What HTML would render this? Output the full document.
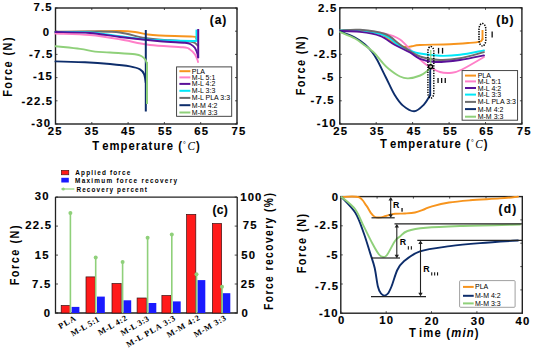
<!DOCTYPE html>
<html><head><meta charset="utf-8"><style>
html,body{margin:0;padding:0;background:#fff;width:533px;height:349px;overflow:hidden}
svg{display:block}
text{fill:#000}
</style></head><body>
<svg width="533" height="349" viewBox="0 0 533 349">
<rect width="533" height="349" fill="#fff"/>
<rect x="55.5" y="8.0" width="181.5" height="116.0" fill="none" stroke="#222" stroke-width="1.4"/>
<line x1="55.5" y1="8.0" x2="57.5" y2="8.0" stroke="#222" stroke-width="0.8" />
<line x1="55.5" y1="31.2" x2="57.5" y2="31.2" stroke="#222" stroke-width="0.8" />
<line x1="55.5" y1="54.4" x2="57.5" y2="54.4" stroke="#222" stroke-width="0.8" />
<line x1="55.5" y1="77.6" x2="57.5" y2="77.6" stroke="#222" stroke-width="0.8" />
<line x1="55.5" y1="100.8" x2="57.5" y2="100.8" stroke="#222" stroke-width="0.8" />
<line x1="55.5" y1="124.0" x2="57.5" y2="124.0" stroke="#222" stroke-width="0.8" />
<line x1="237.0" y1="8.0" x2="235.0" y2="8.0" stroke="#222" stroke-width="0.8" />
<line x1="237.0" y1="31.2" x2="235.0" y2="31.2" stroke="#222" stroke-width="0.8" />
<line x1="237.0" y1="54.4" x2="235.0" y2="54.4" stroke="#222" stroke-width="0.8" />
<line x1="237.0" y1="77.6" x2="235.0" y2="77.6" stroke="#222" stroke-width="0.8" />
<line x1="237.0" y1="100.8" x2="235.0" y2="100.8" stroke="#222" stroke-width="0.8" />
<line x1="237.0" y1="124.0" x2="235.0" y2="124.0" stroke="#222" stroke-width="0.8" />
<line x1="55.5" y1="124.0" x2="55.5" y2="122.0" stroke="#222" stroke-width="0.8" />
<line x1="91.8" y1="124.0" x2="91.8" y2="122.0" stroke="#222" stroke-width="0.8" />
<line x1="128.1" y1="124.0" x2="128.1" y2="122.0" stroke="#222" stroke-width="0.8" />
<line x1="164.4" y1="124.0" x2="164.4" y2="122.0" stroke="#222" stroke-width="0.8" />
<line x1="200.7" y1="124.0" x2="200.7" y2="122.0" stroke="#222" stroke-width="0.8" />
<line x1="237.0" y1="124.0" x2="237.0" y2="122.0" stroke="#222" stroke-width="0.8" />
<line x1="55.5" y1="8.0" x2="55.5" y2="10.0" stroke="#222" stroke-width="0.8" />
<line x1="91.8" y1="8.0" x2="91.8" y2="10.0" stroke="#222" stroke-width="0.8" />
<line x1="128.1" y1="8.0" x2="128.1" y2="10.0" stroke="#222" stroke-width="0.8" />
<line x1="164.4" y1="8.0" x2="164.4" y2="10.0" stroke="#222" stroke-width="0.8" />
<line x1="200.7" y1="8.0" x2="200.7" y2="10.0" stroke="#222" stroke-width="0.8" />
<line x1="237.0" y1="8.0" x2="237.0" y2="10.0" stroke="#222" stroke-width="0.8" />
<path d="M55.5,32.0 C61.2,31.9 79.2,31.7 90.0,31.5 C100.8,31.3 112.5,30.9 120.0,31.0 C127.5,31.1 130.3,31.4 135.0,32.0 C139.7,32.6 143.8,33.9 148.0,34.5 C152.2,35.1 152.5,35.1 160.0,35.5 C167.5,35.9 187.0,36.1 193.0,36.6 C199.0,37.1 195.5,37.9 196.0,38.2" fill="none" stroke="#f7941d" stroke-width="1.9" stroke-linejoin="round" stroke-linecap="round" />
<path d="M55.5,31.8 C62.1,31.8 84.2,31.4 95.0,31.5 C105.8,31.6 111.7,31.4 120.0,32.5 C128.3,33.6 136.7,36.7 145.0,38.0 C153.3,39.3 162.5,39.7 170.0,40.3 C177.5,40.9 185.8,41.0 190.0,41.5 C194.2,42.0 193.8,42.3 195.0,43.0 C196.2,43.7 197.1,45.1 197.5,45.5" fill="none" stroke="#6e6e6e" stroke-width="1.9" stroke-linejoin="round" stroke-linecap="round" />
<path d="M55.5,32.0 C61.2,32.1 79.2,31.8 90.0,32.5 C100.8,33.2 110.0,35.1 120.0,36.3 C130.0,37.5 137.7,39.0 150.0,39.8 C162.3,40.6 186.2,40.9 194.0,41.0 C201.8,41.1 196.1,40.3 196.5,40.2" fill="none" stroke="#00e8f8" stroke-width="1.9" stroke-linejoin="round" stroke-linecap="round" />
<line x1="196.5" y1="29.6" x2="196.5" y2="40.0" stroke="#00e8f8" stroke-width="2" />
<path d="M55.5,33.5 C61.2,33.8 79.2,34.0 90.0,35.0 C100.8,36.0 110.0,37.6 120.0,39.3 C130.0,41.0 139.5,43.7 150.0,45.0 C160.5,46.3 176.3,46.5 183.0,47.3 C189.7,48.0 188.0,48.3 190.0,49.5 C192.0,50.7 193.8,52.8 195.0,54.5 C196.2,56.2 197.0,58.8 197.5,60.0 C198.0,61.2 197.9,61.7 198.0,62.0" fill="none" stroke="#ff7fc8" stroke-width="1.9" stroke-linejoin="round" stroke-linecap="round" />
<path d="M55.5,32.0 C61.2,32.2 79.2,32.2 90.0,33.0 C100.8,33.8 108.3,35.6 120.0,37.0 C131.7,38.4 149.2,40.2 160.0,41.2 C170.8,42.2 179.8,42.2 185.0,42.8 C190.2,43.3 189.3,43.6 191.0,44.5 C192.7,45.4 193.9,46.4 195.0,48.0 C196.1,49.6 197.0,52.4 197.5,54.0 C198.0,55.6 198.1,56.9 198.2,57.5" fill="none" stroke="#5a1199" stroke-width="1.9" stroke-linejoin="round" stroke-linecap="round" />
<line x1="198.2" y1="29.0" x2="198.2" y2="57.8" stroke="#5a1199" stroke-width="2" />
<path d="M55.5,61.4 C60.4,61.5 75.9,61.9 85.0,62.3 C94.1,62.7 102.5,63.3 110.0,64.0 C117.5,64.7 125.0,65.5 130.0,66.4 C135.0,67.3 137.7,68.1 140.0,69.4 C142.3,70.7 143.0,71.8 144.0,74.0 C145.0,76.2 145.5,81.3 145.8,82.8" fill="none" stroke="#0d2d6b" stroke-width="1.9" stroke-linejoin="round" stroke-linecap="round" />
<line x1="145.8" y1="30.0" x2="145.8" y2="111.5" stroke="#0d2d6b" stroke-width="2" />
<path d="M55.5,46.2 C59.6,46.7 73.4,48.0 80.0,48.9 C86.6,49.8 90.0,51.0 95.0,51.6 C100.0,52.2 103.3,52.0 110.0,52.5 C116.7,53.0 129.7,53.6 135.0,54.3 C140.3,55.0 140.2,55.5 142.0,56.5 C143.8,57.5 144.7,58.8 145.5,60.0 C146.3,61.2 146.8,63.3 147.0,64.0" fill="none" stroke="#8fd07a" stroke-width="1.9" stroke-linejoin="round" stroke-linecap="round" />
<line x1="147.0" y1="62.0" x2="147.0" y2="104.0" stroke="#8fd07a" stroke-width="2" />
<rect x="176.6" y="66.9" width="55.1" height="49.4" fill="#fff" stroke="#333" stroke-width="0.9"/>
<line x1="179.4" y1="71.2" x2="190.4" y2="71.2" stroke="#f7941d" stroke-width="2" />
<text x="191.8" y="73.7" font-size="7" text-anchor="start" font-weight="normal" font-family="Liberation Sans" fill="#1a1a1a">PLA</text>
<line x1="179.4" y1="77.4" x2="190.4" y2="77.4" stroke="#ff7fc8" stroke-width="2" />
<text x="191.8" y="79.9" font-size="7" text-anchor="start" font-weight="normal" font-family="Liberation Sans" fill="#1a1a1a">M-L 5:1</text>
<line x1="179.4" y1="83.9" x2="190.4" y2="83.9" stroke="#5a1199" stroke-width="2" />
<text x="191.8" y="86.4" font-size="7" text-anchor="start" font-weight="normal" font-family="Liberation Sans" fill="#1a1a1a">M-L 4:2</text>
<line x1="179.4" y1="90.8" x2="190.4" y2="90.8" stroke="#00e8f8" stroke-width="2" />
<text x="191.8" y="93.3" font-size="7" text-anchor="start" font-weight="normal" font-family="Liberation Sans" fill="#1a1a1a">M-L 3:3</text>
<line x1="179.4" y1="97.9" x2="190.4" y2="97.9" stroke="#6e6e6e" stroke-width="2" />
<text x="191.8" y="100.4" font-size="7" text-anchor="start" font-weight="normal" font-family="Liberation Sans" fill="#1a1a1a">M-L PLA 3:3</text>
<line x1="179.4" y1="105.2" x2="190.4" y2="105.2" stroke="#0d2d6b" stroke-width="2" />
<text x="191.8" y="107.7" font-size="7" text-anchor="start" font-weight="normal" font-family="Liberation Sans" fill="#1a1a1a">M-M 4:2</text>
<line x1="179.4" y1="112.5" x2="190.4" y2="112.5" stroke="#8fd07a" stroke-width="2" />
<text x="191.8" y="115.0" font-size="7" text-anchor="start" font-weight="normal" font-family="Liberation Sans" fill="#1a1a1a">M-M 3:3</text>
<rect x="339.8" y="7.8" width="182.1" height="116.2" fill="none" stroke="#222" stroke-width="1.4"/>
<line x1="339.8" y1="7.8" x2="341.8" y2="7.8" stroke="#222" stroke-width="0.8" />
<line x1="339.8" y1="31.0" x2="341.8" y2="31.0" stroke="#222" stroke-width="0.8" />
<line x1="339.8" y1="54.3" x2="341.8" y2="54.3" stroke="#222" stroke-width="0.8" />
<line x1="339.8" y1="77.5" x2="341.8" y2="77.5" stroke="#222" stroke-width="0.8" />
<line x1="339.8" y1="100.8" x2="341.8" y2="100.8" stroke="#222" stroke-width="0.8" />
<line x1="339.8" y1="124.0" x2="341.8" y2="124.0" stroke="#222" stroke-width="0.8" />
<line x1="521.9" y1="7.8" x2="519.9" y2="7.8" stroke="#222" stroke-width="0.8" />
<line x1="521.9" y1="31.0" x2="519.9" y2="31.0" stroke="#222" stroke-width="0.8" />
<line x1="521.9" y1="54.3" x2="519.9" y2="54.3" stroke="#222" stroke-width="0.8" />
<line x1="521.9" y1="77.5" x2="519.9" y2="77.5" stroke="#222" stroke-width="0.8" />
<line x1="521.9" y1="100.8" x2="519.9" y2="100.8" stroke="#222" stroke-width="0.8" />
<line x1="521.9" y1="124.0" x2="519.9" y2="124.0" stroke="#222" stroke-width="0.8" />
<line x1="339.8" y1="124.0" x2="339.8" y2="122.0" stroke="#222" stroke-width="0.8" />
<line x1="376.2" y1="124.0" x2="376.2" y2="122.0" stroke="#222" stroke-width="0.8" />
<line x1="412.6" y1="124.0" x2="412.6" y2="122.0" stroke="#222" stroke-width="0.8" />
<line x1="449.1" y1="124.0" x2="449.1" y2="122.0" stroke="#222" stroke-width="0.8" />
<line x1="485.5" y1="124.0" x2="485.5" y2="122.0" stroke="#222" stroke-width="0.8" />
<line x1="521.9" y1="124.0" x2="521.9" y2="122.0" stroke="#222" stroke-width="0.8" />
<line x1="339.8" y1="7.8" x2="339.8" y2="9.8" stroke="#222" stroke-width="0.8" />
<line x1="376.2" y1="7.8" x2="376.2" y2="9.8" stroke="#222" stroke-width="0.8" />
<line x1="412.6" y1="7.8" x2="412.6" y2="9.8" stroke="#222" stroke-width="0.8" />
<line x1="449.1" y1="7.8" x2="449.1" y2="9.8" stroke="#222" stroke-width="0.8" />
<line x1="485.5" y1="7.8" x2="485.5" y2="9.8" stroke="#222" stroke-width="0.8" />
<line x1="521.9" y1="7.8" x2="521.9" y2="9.8" stroke="#222" stroke-width="0.8" />
<path d="M340.0,31.0 C343.3,31.0 353.3,30.6 360.0,31.0 C366.7,31.4 375.0,31.9 380.0,33.5 C385.0,35.1 387.0,38.5 390.0,40.5 C393.0,42.5 395.5,44.1 398.0,45.2 C400.5,46.3 402.7,46.8 405.0,47.0 C407.3,47.2 409.5,46.5 412.0,46.2 C414.5,45.9 413.7,45.3 420.0,45.0 C426.3,44.7 441.7,44.6 450.0,44.2 C458.3,43.9 465.0,43.3 470.0,42.9 C475.0,42.5 477.9,42.2 480.0,41.6 C482.1,41.0 482.1,39.4 482.5,39.0" fill="none" stroke="#f7941d" stroke-width="1.9" stroke-linejoin="round" stroke-linecap="round" />
<line x1="482.5" y1="30.0" x2="482.5" y2="40.0" stroke="#f7941d" stroke-width="1.9" />
<path d="M340.0,31.0 C343.3,30.9 352.5,30.1 360.0,30.5 C367.5,30.9 378.3,32.1 385.0,33.6 C391.7,35.1 395.3,36.3 400.0,39.5 C404.7,42.7 408.7,48.4 413.0,52.6 C417.3,56.8 421.5,61.3 426.0,64.5 C430.5,67.7 435.7,70.6 440.0,72.0 C444.3,73.4 448.3,73.2 452.0,72.8 C455.7,72.4 456.7,72.1 462.0,69.5 C467.3,66.9 480.3,59.1 484.0,57.0" fill="none" stroke="#ff7fc8" stroke-width="1.9" stroke-linejoin="round" stroke-linecap="round" />
<path d="M340.0,30.5 C343.3,30.4 352.5,29.4 360.0,30.2 C367.5,31.0 378.7,33.0 385.0,35.5 C391.3,38.0 393.8,42.5 398.0,45.0 C402.2,47.5 406.3,49.1 410.0,50.5 C413.7,51.9 415.0,52.6 420.0,53.5 C425.0,54.4 433.3,55.6 440.0,55.8 C446.7,56.0 452.7,55.7 460.0,54.8 C467.3,53.9 480.0,51.1 484.0,50.4" fill="none" stroke="#00e8f8" stroke-width="1.9" stroke-linejoin="round" stroke-linecap="round" />
<path d="M340.0,30.5 C343.3,30.4 352.5,29.2 360.0,29.8 C367.5,30.4 378.7,31.8 385.0,34.0 C391.3,36.2 394.7,40.7 398.0,43.0 C401.3,45.3 401.3,45.6 405.0,47.9 C408.7,50.1 414.2,54.5 420.0,56.5 C425.8,58.5 433.3,59.7 440.0,60.0 C446.7,60.3 452.7,59.6 460.0,58.3 C467.3,57.0 480.0,53.1 484.0,52.1" fill="none" stroke="#6e6e6e" stroke-width="1.9" stroke-linejoin="round" stroke-linecap="round" />
<path d="M340.0,31.0 C343.3,31.1 353.3,31.1 360.0,31.9 C366.7,32.7 374.2,33.7 380.0,35.9 C385.8,38.1 390.0,42.2 395.0,45.0 C400.0,47.8 405.8,50.2 410.0,52.5 C414.2,54.8 415.8,57.2 420.0,58.8 C424.2,60.4 428.3,61.8 435.0,62.0 C441.7,62.2 451.8,61.1 460.0,60.0 C468.2,58.9 480.0,56.2 484.0,55.4" fill="none" stroke="#5a1199" stroke-width="1.9" stroke-linejoin="round" stroke-linecap="round" />
<path d="M340.0,31.5 C342.5,32.5 350.8,35.3 355.0,37.5 C359.2,39.7 362.2,42.1 365.0,44.5 C367.8,46.9 370.0,49.4 372.0,52.0 C374.0,54.6 374.9,55.8 377.2,60.0 C379.5,64.2 382.9,71.5 385.8,77.2 C388.7,82.9 391.5,89.7 394.4,94.4 C397.3,99.1 399.7,102.8 403.0,105.6 C406.3,108.4 410.8,111.4 414.2,111.3 C417.6,111.2 421.1,107.4 423.7,104.8 C426.3,102.2 428.9,97.0 430.0,95.5" fill="none" stroke="#0d2d6b" stroke-width="1.9" stroke-linejoin="round" stroke-linecap="round" />
<line x1="430.2" y1="68.0" x2="430.2" y2="96.0" stroke="#0d2d6b" stroke-width="1.9" />
<path d="M340.0,32.0 C342.5,33.1 350.8,36.2 355.0,38.5 C359.2,40.8 361.8,43.1 365.0,45.5 C368.2,47.9 371.6,50.2 374.3,52.9 C377.1,55.6 379.1,58.9 381.5,61.5 C383.9,64.1 385.5,66.2 388.6,68.7 C391.7,71.2 396.7,74.9 400.0,76.5 C403.3,78.1 404.8,78.6 408.2,78.4 C411.6,78.2 416.9,76.8 420.2,75.5 C423.5,74.2 426.3,71.6 428.0,70.3 C429.7,69.0 430.1,68.0 430.5,67.5" fill="none" stroke="#8fd07a" stroke-width="1.9" stroke-linejoin="round" stroke-linecap="round" />
<line x1="430.8" y1="50.0" x2="430.8" y2="66.0" stroke="#8fd07a" stroke-width="1.2" />
<circle cx="430.6" cy="66.8" r="2" fill="none" stroke="#000" stroke-width="1.4"/>
<rect x="427.9" y="46.5" width="5.9" height="51.5" rx="2.95" ry="5" fill="none" stroke="#000" stroke-width="1.5" stroke-dasharray="1.3 1.2"/>
<rect x="479" y="23.4" width="6.8" height="22.5" rx="3.4" ry="6" fill="none" stroke="#000" stroke-width="1.5" stroke-dasharray="1.3 1.2"/>
<rect x="462.1" y="70.6" width="55.5" height="49.6" fill="#fff" stroke="#333" stroke-width="0.9"/>
<line x1="465.0" y1="75.6" x2="476.0" y2="75.6" stroke="#f7941d" stroke-width="2" />
<text x="477.7" y="78.1" font-size="7" text-anchor="start" font-weight="normal" font-family="Liberation Sans" fill="#1a1a1a">PLA</text>
<line x1="465.0" y1="81.4" x2="476.0" y2="81.4" stroke="#ff7fc8" stroke-width="2" />
<text x="477.7" y="83.9" font-size="7" text-anchor="start" font-weight="normal" font-family="Liberation Sans" fill="#1a1a1a">M-L 5:1</text>
<line x1="465.0" y1="88.0" x2="476.0" y2="88.0" stroke="#5a1199" stroke-width="2" />
<text x="477.7" y="90.5" font-size="7" text-anchor="start" font-weight="normal" font-family="Liberation Sans" fill="#1a1a1a">M-L 4:2</text>
<line x1="465.0" y1="94.6" x2="476.0" y2="94.6" stroke="#00e8f8" stroke-width="2" />
<text x="477.7" y="97.1" font-size="7" text-anchor="start" font-weight="normal" font-family="Liberation Sans" fill="#1a1a1a">M-L 3:3</text>
<line x1="465.0" y1="101.9" x2="476.0" y2="101.9" stroke="#6e6e6e" stroke-width="2" />
<text x="477.7" y="104.4" font-size="7" text-anchor="start" font-weight="normal" font-family="Liberation Sans" fill="#1a1a1a">M-L PLA 3:3</text>
<line x1="465.0" y1="109.1" x2="476.0" y2="109.1" stroke="#0d2d6b" stroke-width="2" />
<text x="477.7" y="111.6" font-size="7" text-anchor="start" font-weight="normal" font-family="Liberation Sans" fill="#1a1a1a">M-M 4:2</text>
<line x1="465.0" y1="116.7" x2="476.0" y2="116.7" stroke="#8fd07a" stroke-width="2" />
<text x="477.7" y="119.2" font-size="7" text-anchor="start" font-weight="normal" font-family="Liberation Sans" fill="#1a1a1a">M-M 3:3</text>
<path d="M55.5,197.1 L55.5,313.0 L237.2,313.0 L237.2,197.1" fill="none" stroke="#222" stroke-width="1.3"/>
<line x1="55.5" y1="197.1" x2="237.2" y2="197.1" stroke="#222" stroke-width="1.3"/>
<line x1="55.5" y1="197.1" x2="58.0" y2="197.1" stroke="#222" stroke-width="0.8" />
<line x1="237.2" y1="197.1" x2="234.7" y2="197.1" stroke="#222" stroke-width="0.8" />
<line x1="55.5" y1="226.1" x2="58.0" y2="226.1" stroke="#222" stroke-width="0.8" />
<line x1="237.2" y1="226.1" x2="234.7" y2="226.1" stroke="#222" stroke-width="0.8" />
<line x1="55.5" y1="255.1" x2="58.0" y2="255.1" stroke="#222" stroke-width="0.8" />
<line x1="237.2" y1="255.1" x2="234.7" y2="255.1" stroke="#222" stroke-width="0.8" />
<line x1="55.5" y1="284.0" x2="58.0" y2="284.0" stroke="#222" stroke-width="0.8" />
<line x1="237.2" y1="284.0" x2="234.7" y2="284.0" stroke="#222" stroke-width="0.8" />
<line x1="55.5" y1="313.0" x2="58.0" y2="313.0" stroke="#222" stroke-width="0.8" />
<line x1="237.2" y1="313.0" x2="234.7" y2="313.0" stroke="#222" stroke-width="0.8" />
<rect x="61.2" y="305.5" width="9.2" height="7.5" fill="#ff1a1a" stroke="#3a1010" stroke-width="0.7"/>
<rect x="71.6" y="306.9" width="7.8" height="6.1" fill="#1a1aff"/>
<line x1="70.4" y1="213.1" x2="70.4" y2="313.0" stroke="#8fd07a" stroke-width="1.6" />
<circle cx="70.4" cy="213.1" r="2" fill="#8fd07a"/>
<rect x="86.0" y="276.9" width="9.2" height="36.1" fill="#ff1a1a" stroke="#3a1010" stroke-width="0.7"/>
<rect x="97.0" y="296.6" width="7.8" height="16.4" fill="#1a1aff"/>
<line x1="95.7" y1="257.6" x2="95.7" y2="313.0" stroke="#8fd07a" stroke-width="1.6" />
<circle cx="95.7" cy="257.6" r="2" fill="#8fd07a"/>
<rect x="112.0" y="283.5" width="9.2" height="29.5" fill="#ff1a1a" stroke="#3a1010" stroke-width="0.7"/>
<rect x="123.4" y="300.3" width="7.8" height="12.7" fill="#1a1aff"/>
<line x1="122.6" y1="261.9" x2="122.6" y2="313.0" stroke="#8fd07a" stroke-width="1.6" />
<circle cx="122.6" cy="261.9" r="2" fill="#8fd07a"/>
<rect x="137.1" y="298.0" width="9.2" height="15.0" fill="#ff1a1a" stroke="#3a1010" stroke-width="0.7"/>
<rect x="148.5" y="303.0" width="7.8" height="10.0" fill="#1a1aff"/>
<line x1="147.6" y1="237.8" x2="147.6" y2="313.0" stroke="#8fd07a" stroke-width="1.6" />
<circle cx="147.6" cy="237.8" r="2" fill="#8fd07a"/>
<rect x="161.9" y="295.5" width="9.2" height="17.5" fill="#ff1a1a" stroke="#3a1010" stroke-width="0.7"/>
<rect x="172.9" y="301.4" width="7.8" height="11.6" fill="#1a1aff"/>
<line x1="171.8" y1="234.4" x2="171.8" y2="313.0" stroke="#8fd07a" stroke-width="1.6" />
<circle cx="171.8" cy="234.4" r="2" fill="#8fd07a"/>
<rect x="186.6" y="214.4" width="9.2" height="98.6" fill="#ff1a1a" stroke="#3a1010" stroke-width="0.7"/>
<rect x="197.5" y="280.1" width="7.8" height="32.9" fill="#1a1aff"/>
<line x1="196.5" y1="274.2" x2="196.5" y2="313.0" stroke="#8fd07a" stroke-width="1.6" />
<circle cx="196.5" cy="274.2" r="2" fill="#8fd07a"/>
<rect x="212.4" y="223.5" width="9.2" height="89.5" fill="#ff1a1a" stroke="#3a1010" stroke-width="0.7"/>
<rect x="222.5" y="293.2" width="7.8" height="19.8" fill="#1a1aff"/>
<line x1="222.0" y1="286.8" x2="222.0" y2="313.0" stroke="#8fd07a" stroke-width="1.6" />
<circle cx="222.0" cy="286.8" r="2" fill="#8fd07a"/>
<rect x="61.3" y="170.3" width="7.5" height="4.5" fill="#ff1a1a" stroke="#3a1010" stroke-width="0.6"/>
<rect x="61.3" y="177.8" width="7.5" height="4.7" fill="#1a1aff"/>
<line x1="61.3" y1="189.0" x2="74.4" y2="189.0" stroke="#8fd07a" stroke-width="1.2" />
<circle cx="63.3" cy="189" r="1.5" fill="#8fd07a"/>
<rect x="340.8" y="196.6" width="181.5" height="116.6" fill="none" stroke="#222" stroke-width="1.4"/>
<line x1="340.8" y1="196.6" x2="342.8" y2="196.6" stroke="#222" stroke-width="0.8" />
<line x1="340.8" y1="225.8" x2="342.8" y2="225.8" stroke="#222" stroke-width="0.8" />
<line x1="340.8" y1="254.9" x2="342.8" y2="254.9" stroke="#222" stroke-width="0.8" />
<line x1="340.8" y1="284.0" x2="342.8" y2="284.0" stroke="#222" stroke-width="0.8" />
<line x1="340.8" y1="313.2" x2="342.8" y2="313.2" stroke="#222" stroke-width="0.8" />
<line x1="522.3" y1="219.9" x2="520.3" y2="219.9" stroke="#222" stroke-width="0.8" />
<line x1="522.3" y1="243.2" x2="520.3" y2="243.2" stroke="#222" stroke-width="0.8" />
<line x1="522.3" y1="266.6" x2="520.3" y2="266.6" stroke="#222" stroke-width="0.8" />
<line x1="522.3" y1="289.9" x2="520.3" y2="289.9" stroke="#222" stroke-width="0.8" />
<line x1="340.8" y1="313.2" x2="340.8" y2="311.2" stroke="#222" stroke-width="0.8" />
<line x1="386.2" y1="313.2" x2="386.2" y2="311.2" stroke="#222" stroke-width="0.8" />
<line x1="431.5" y1="313.2" x2="431.5" y2="311.2" stroke="#222" stroke-width="0.8" />
<line x1="476.9" y1="313.2" x2="476.9" y2="311.2" stroke="#222" stroke-width="0.8" />
<line x1="522.3" y1="313.2" x2="522.3" y2="311.2" stroke="#222" stroke-width="0.8" />
<line x1="377.1" y1="196.6" x2="377.1" y2="198.6" stroke="#222" stroke-width="0.8" />
<line x1="413.4" y1="196.6" x2="413.4" y2="198.6" stroke="#222" stroke-width="0.8" />
<line x1="449.7" y1="196.6" x2="449.7" y2="198.6" stroke="#222" stroke-width="0.8" />
<line x1="486.0" y1="196.6" x2="486.0" y2="198.6" stroke="#222" stroke-width="0.8" />
<path d="M341.5,197.0 C344.4,197.0 354.5,195.8 358.6,197.2 C362.8,198.6 364.4,203.1 366.4,205.7 C368.4,208.3 369.2,210.7 370.6,212.6 C372.0,214.5 373.3,216.2 375.0,217.0 C376.7,217.8 379.2,217.6 381.0,217.4 C382.8,217.2 383.7,216.6 386.0,216.0 C388.3,215.4 391.8,214.2 395.0,213.8 C398.2,213.4 401.7,213.7 405.0,213.5 C408.3,213.3 411.7,213.2 415.0,212.5 C418.3,211.8 422.2,210.0 425.0,209.0 C427.8,208.0 428.0,207.4 432.0,206.3 C436.0,205.2 442.7,203.5 449.0,202.5 C455.3,201.5 461.5,201.0 470.0,200.3 C478.5,199.6 492.0,199.0 500.0,198.4 C508.0,197.8 515.0,196.9 518.0,196.6" fill="none" stroke="#f7941d" stroke-width="1.9" stroke-linejoin="round" stroke-linecap="round" />
<path d="M341.5,197.0 C343.8,199.6 351.5,206.6 355.2,212.6 C358.9,218.6 361.4,226.6 363.8,233.2 C366.2,239.8 368.0,246.2 369.8,252.0 C371.6,257.8 373.4,262.2 374.7,268.0 C376.0,273.8 376.8,282.2 377.9,286.5 C378.9,290.8 379.9,292.0 381.0,293.5 C382.1,295.0 383.2,295.6 384.4,295.6 C385.6,295.6 386.8,295.0 388.0,293.5 C389.2,292.0 389.9,290.4 391.5,286.5 C393.1,282.6 395.3,274.2 397.3,270.0 C399.3,265.8 399.9,264.6 403.7,261.5 C407.5,258.4 412.3,254.0 420.0,251.4 C427.7,248.8 440.0,247.5 450.0,246.1 C460.0,244.7 468.7,244.0 480.0,243.1 C491.3,242.2 511.7,240.9 518.0,240.5" fill="none" stroke="#0d2d6b" stroke-width="1.9" stroke-linejoin="round" stroke-linecap="round" />
<path d="M341.5,197.0 C343.8,199.0 351.5,204.3 355.2,209.2 C358.9,214.1 360.9,220.7 363.8,226.4 C366.7,232.1 369.9,238.8 372.4,243.5 C374.9,248.2 377.2,252.2 379.0,254.5 C380.8,256.8 381.8,256.9 383.1,257.0 C384.4,257.1 385.0,257.7 387.0,255.0 C389.0,252.3 392.8,244.1 395.0,241.0 C397.2,237.9 397.9,238.2 400.0,236.5 C402.1,234.8 403.2,232.4 407.5,231.0 C411.8,229.6 417.2,228.6 426.0,227.8 C434.8,227.0 444.3,226.6 460.0,226.0 C475.7,225.4 510.0,224.8 520.0,224.5" fill="none" stroke="#8fd07a" stroke-width="1.9" stroke-linejoin="round" stroke-linecap="round" />
<line x1="371.5" y1="217.8" x2="394.7" y2="217.8" stroke="#222" stroke-width="1.2" />
<line x1="394.5" y1="223.8" x2="522.0" y2="223.8" stroke="#222" stroke-width="1.2" />
<line x1="371.0" y1="258.0" x2="400.0" y2="258.0" stroke="#222" stroke-width="1.2" />
<line x1="417.3" y1="240.4" x2="522.0" y2="240.4" stroke="#222" stroke-width="1.2" />
<line x1="371.0" y1="296.6" x2="426.0" y2="296.6" stroke="#222" stroke-width="1.2" />
<line x1="390.7" y1="198.0" x2="390.7" y2="216.8" stroke="#222" stroke-width="1.1" />
<path d="M388.5,200.5 L390.7,197.0 L392.9,200.5 Z" fill="#222"/>
<path d="M388.5,214.3 L390.7,217.8 L392.9,214.3 Z" fill="#222"/>
<line x1="396.8" y1="225.0" x2="396.8" y2="257.2" stroke="#222" stroke-width="1.1" />
<path d="M394.6,227.5 L396.8,224.0 L399.0,227.5 Z" fill="#222"/>
<path d="M394.6,254.7 L396.8,258.2 L399.0,254.7 Z" fill="#222"/>
<line x1="420.5" y1="241.6" x2="420.5" y2="295.2" stroke="#222" stroke-width="1.1" />
<path d="M418.3,244.1 L420.5,240.6 L422.7,244.1 Z" fill="#222"/>
<path d="M418.3,292.7 L420.5,296.2 L422.7,292.7 Z" fill="#222"/>
<rect x="401.40" y="208.00" width="1.30" height="3.70" fill="#111"/>
<rect x="407.80" y="246.20" width="1.10" height="3.40" fill="#111"/>
<rect x="410.80" y="246.20" width="1.10" height="3.40" fill="#111"/>
<rect x="431.20" y="272.30" width="1.10" height="3.20" fill="#111"/>
<rect x="434.10" y="272.30" width="1.10" height="3.20" fill="#111"/>
<rect x="437.00" y="272.30" width="1.10" height="3.20" fill="#111"/>
<rect x="437.90" y="47.90" width="1.30" height="5.70" fill="#111"/>
<rect x="441.90" y="47.90" width="1.30" height="5.70" fill="#111"/>
<rect x="437.40" y="78.00" width="1.30" height="5.00" fill="#111"/>
<rect x="441.00" y="78.00" width="1.30" height="5.00" fill="#111"/>
<rect x="444.60" y="78.00" width="1.30" height="5.00" fill="#111"/>
<rect x="491.50" y="31.50" width="1.30" height="6.00" fill="#111"/>
<text x="0" y="0" font-family="Liberation Sans" font-weight="bold" font-size="11.3" letter-spacing="1.200" transform="translate(33.53 11.30) rotate(0) scale(1.0 1)" stroke="#000" stroke-width="0.15">7.5</text>
<text x="0" y="0" font-family="Liberation Sans" font-weight="bold" font-size="11.3" letter-spacing="1.200" transform="translate(42.68 35.67) rotate(0) scale(1.0 1)" stroke="#000" stroke-width="0.15">0</text>
<text x="0" y="0" font-family="Liberation Sans" font-weight="bold" font-size="11.3" letter-spacing="1.200" transform="translate(29.12 57.65) rotate(0) scale(1.0 1)" stroke="#000" stroke-width="0.15">-7.5</text>
<text x="0" y="0" font-family="Liberation Sans" font-weight="bold" font-size="11.3" letter-spacing="1.200" transform="translate(32.95 80.20) rotate(0) scale(1.0 1)" stroke="#000" stroke-width="0.15">-15</text>
<text x="0" y="0" font-family="Liberation Sans" font-weight="bold" font-size="11.3" letter-spacing="1.200" transform="translate(21.53 104.68) rotate(0) scale(1.0 1)" stroke="#000" stroke-width="0.15">-22.5</text>
<text x="0" y="0" font-family="Liberation Sans" font-weight="bold" font-size="11.3" letter-spacing="1.200" transform="translate(31.28 126.62) rotate(0) scale(1.0 1)" stroke="#000" stroke-width="0.15">-30</text>
<text x="0" y="0" font-family="Liberation Sans" font-weight="bold" font-size="11.3" letter-spacing="1.200" transform="translate(47.65 135.28) rotate(0) scale(1.0 1)" stroke="#000" stroke-width="0.15">25</text>
<text x="0" y="0" font-family="Liberation Sans" font-weight="bold" font-size="11.3" letter-spacing="1.200" transform="translate(84.48 135.07) rotate(0) scale(1.0 1)" stroke="#000" stroke-width="0.15">35</text>
<text x="0" y="0" font-family="Liberation Sans" font-weight="bold" font-size="11.3" letter-spacing="1.200" transform="translate(120.98 134.95) rotate(0) scale(1.0 1)" stroke="#000" stroke-width="0.15">45</text>
<text x="0" y="0" font-family="Liberation Sans" font-weight="bold" font-size="11.3" letter-spacing="1.200" transform="translate(158.00 134.70) rotate(0) scale(1.0 1)" stroke="#000" stroke-width="0.15">55</text>
<text x="0" y="0" font-family="Liberation Sans" font-weight="bold" font-size="11.3" letter-spacing="1.200" transform="translate(194.20 134.98) rotate(0) scale(1.0 1)" stroke="#000" stroke-width="0.15">65</text>
<text x="0" y="0" font-family="Liberation Sans" font-weight="bold" font-size="11.3" letter-spacing="1.200" transform="translate(231.50 134.85) rotate(0) scale(1.0 1)" stroke="#000" stroke-width="0.15">75</text>
<text x="0" y="0" font-family="Liberation Sans" font-weight="bold" font-size="12.8" letter-spacing="1.208" transform="translate(92.30 149.50) rotate(0) scale(0.88 1)">T<tspan dx="2.2">emperature (</tspan><tspan font-weight="normal" font-family="Liberation Serif" font-size="8" dy="-3">°</tspan><tspan font-weight="normal" font-family="Liberation Serif" font-style="italic" dy="3" dx="0.5">C</tspan>)</text>
<text x="0" y="0" font-family="Liberation Sans" font-weight="bold" font-size="12.8" letter-spacing="1.704" transform="translate(12.30 96.75) rotate(-90) scale(0.85 1)">Force (N)</text>
<text x="0" y="0" font-family="Liberation Sans" font-weight="bold" font-size="12" letter-spacing="0.925" transform="translate(209.75 24.17) rotate(0) scale(1.0 1)" stroke="#000" stroke-width="0.15">(a)</text>
<text x="0" y="0" font-family="Liberation Sans" font-weight="bold" font-size="11.3" letter-spacing="1.200" transform="translate(318.12 11.62) rotate(0) scale(1.0 1)" stroke="#000" stroke-width="0.15">2.5</text>
<text x="0" y="0" font-family="Liberation Sans" font-weight="bold" font-size="11.3" letter-spacing="1.200" transform="translate(327.58 35.62) rotate(0) scale(1.0 1)" stroke="#000" stroke-width="0.15">0</text>
<text x="0" y="0" font-family="Liberation Sans" font-weight="bold" font-size="11.3" letter-spacing="1.200" transform="translate(313.83 57.92) rotate(0) scale(1.0 1)" stroke="#000" stroke-width="0.15">-2.5</text>
<text x="0" y="0" font-family="Liberation Sans" font-weight="bold" font-size="11.3" letter-spacing="1.200" transform="translate(321.95 81.00) rotate(0) scale(1.0 1)" stroke="#000" stroke-width="0.15">-5</text>
<text x="0" y="0" font-family="Liberation Sans" font-weight="bold" font-size="11.3" letter-spacing="1.200" transform="translate(310.58 104.45) rotate(0) scale(1.0 1)" stroke="#000" stroke-width="0.15">-7.5</text>
<text x="0" y="0" font-family="Liberation Sans" font-weight="bold" font-size="11.3" letter-spacing="1.200" transform="translate(316.77 126.82) rotate(0) scale(1.0 1)" stroke="#000" stroke-width="0.15">-10</text>
<text x="0" y="0" font-family="Liberation Sans" font-weight="bold" font-size="11.3" letter-spacing="1.200" transform="translate(333.35 134.68) rotate(0) scale(1.0 1)" stroke="#000" stroke-width="0.15">25</text>
<text x="0" y="0" font-family="Liberation Sans" font-weight="bold" font-size="11.3" letter-spacing="1.200" transform="translate(369.78 135.02) rotate(0) scale(1.0 1)" stroke="#000" stroke-width="0.15">35</text>
<text x="0" y="0" font-family="Liberation Sans" font-weight="bold" font-size="11.3" letter-spacing="1.200" transform="translate(406.78 134.90) rotate(0) scale(1.0 1)" stroke="#000" stroke-width="0.15">45</text>
<text x="0" y="0" font-family="Liberation Sans" font-weight="bold" font-size="11.3" letter-spacing="1.200" transform="translate(443.05 134.90) rotate(0) scale(1.0 1)" stroke="#000" stroke-width="0.15">55</text>
<text x="0" y="0" font-family="Liberation Sans" font-weight="bold" font-size="11.3" letter-spacing="1.200" transform="translate(479.35 135.18) rotate(0) scale(1.0 1)" stroke="#000" stroke-width="0.15">65</text>
<text x="0" y="0" font-family="Liberation Sans" font-weight="bold" font-size="11.3" letter-spacing="1.200" transform="translate(516.80 135.05) rotate(0) scale(1.0 1)" stroke="#000" stroke-width="0.15">75</text>
<text x="0" y="0" font-family="Liberation Sans" font-weight="bold" font-size="12.8" letter-spacing="1.208" transform="translate(380.10 147.90) rotate(0) scale(0.88 1)">T<tspan dx="2.2">emperature (</tspan><tspan font-weight="normal" font-family="Liberation Serif" font-size="8" dy="-3">°</tspan><tspan font-weight="normal" font-family="Liberation Serif" font-style="italic" dy="3" dx="0.5">C</tspan>)</text>
<text x="0" y="0" font-family="Liberation Sans" font-weight="bold" font-size="12.8" letter-spacing="1.644" transform="translate(304.65 95.20) rotate(-90) scale(0.85 1)">Force (N)</text>
<text x="0" y="0" font-family="Liberation Sans" font-weight="bold" font-size="12" letter-spacing="0.875" transform="translate(496.30 24.33) rotate(0) scale(1.0 1)" stroke="#000" stroke-width="0.15">(b)</text>
<text x="0" y="0" font-family="Liberation Sans" font-weight="bold" font-size="11.3" letter-spacing="1.200" transform="translate(34.70 200.48) rotate(0) scale(1.0 1)" stroke="#000" stroke-width="0.15">30</text>
<text x="0" y="0" font-family="Liberation Sans" font-weight="bold" font-size="11.3" letter-spacing="1.200" transform="translate(25.33 229.08) rotate(0) scale(1.0 1)" stroke="#000" stroke-width="0.15">22.5</text>
<text x="0" y="0" font-family="Liberation Sans" font-weight="bold" font-size="11.3" letter-spacing="1.200" transform="translate(34.67 259.25) rotate(0) scale(1.0 1)" stroke="#000" stroke-width="0.15">15</text>
<text x="0" y="0" font-family="Liberation Sans" font-weight="bold" font-size="11.3" letter-spacing="1.200" transform="translate(32.08 287.90) rotate(0) scale(1.0 1)" stroke="#000" stroke-width="0.15">7.5</text>
<text x="0" y="0" font-family="Liberation Sans" font-weight="bold" font-size="11.3" letter-spacing="1.200" transform="translate(43.82 316.68) rotate(0) scale(1.0 1)" stroke="#000" stroke-width="0.15">0</text>
<text x="0" y="0" font-family="Liberation Sans" font-weight="bold" font-size="11.3" letter-spacing="1.200" transform="translate(240.15 200.52) rotate(0) scale(1.0 1)" stroke="#000" stroke-width="0.15">100</text>
<text x="0" y="0" font-family="Liberation Sans" font-weight="bold" font-size="11.3" letter-spacing="1.200" transform="translate(242.65 229.10) rotate(0) scale(1.0 1)" stroke="#000" stroke-width="0.15">75</text>
<text x="0" y="0" font-family="Liberation Sans" font-weight="bold" font-size="11.3" letter-spacing="1.200" transform="translate(241.28 258.83) rotate(0) scale(1.0 1)" stroke="#000" stroke-width="0.15">50</text>
<text x="0" y="0" font-family="Liberation Sans" font-weight="bold" font-size="11.3" letter-spacing="1.200" transform="translate(240.70 287.82) rotate(0) scale(1.0 1)" stroke="#000" stroke-width="0.15">25</text>
<text x="0" y="0" font-family="Liberation Sans" font-weight="bold" font-size="11.3" letter-spacing="1.200" transform="translate(241.62 316.52) rotate(0) scale(1.0 1)" stroke="#000" stroke-width="0.15">0</text>
<text x="0" y="0" font-family="Liberation Sans" font-weight="bold" font-size="12.8" letter-spacing="1.793" transform="translate(19.40 285.30) rotate(-90) scale(0.85 1)">Force (N)</text>
<text x="0" y="0" font-family="Liberation Sans" font-weight="bold" font-size="12.5" letter-spacing="1.757" transform="translate(273.32 309.90) rotate(-90) scale(0.82 1)">Force recovery (%)</text>
<text x="0" y="0" font-family="Liberation Sans" font-weight="bold" font-size="12" letter-spacing="0.375" transform="translate(212.40 214.42) rotate(0) scale(1.0 1)" stroke="#000" stroke-width="0.15">(c)</text>
<text x="0" y="0" font-family="Liberation Sans" font-weight="bold" font-size="7.8" letter-spacing="1.435" transform="translate(75.30 174.70) rotate(0) scale(0.82 1)">Applied force</text>
<text x="0" y="0" font-family="Liberation Sans" font-weight="bold" font-size="7.8" letter-spacing="1.545" transform="translate(75.08 183.30) rotate(0) scale(0.82 1)">Maximum force recovery</text>
<text x="0" y="0" font-family="Liberation Sans" font-weight="bold" font-size="7.8" letter-spacing="1.368" transform="translate(76.45 191.58) rotate(0) scale(0.82 1)">Recovery percent</text>
<text x="0" y="0" font-family="Liberation Serif" font-weight="bold" font-size="8.3" letter-spacing="1.057" transform="translate(60.32 329.28) rotate(-30) scale(1.0 1)">PLA</text>
<text x="0" y="0" font-family="Liberation Serif" font-weight="bold" font-size="8.3" letter-spacing="0.419" transform="translate(72.78 336.60) rotate(-30) scale(1.0 1)">M-L 5:1</text>
<text x="0" y="0" font-family="Liberation Serif" font-weight="bold" font-size="8.3" letter-spacing="0.495" transform="translate(100.02 335.58) rotate(-30) scale(1.0 1)">M-L 4:2</text>
<text x="0" y="0" font-family="Liberation Serif" font-weight="bold" font-size="8.3" letter-spacing="0.410" transform="translate(122.57 335.98) rotate(-30) scale(1.0 1)">M-L 3:3</text>
<text x="0" y="0" font-family="Liberation Serif" font-weight="bold" font-size="8.3" letter-spacing="0.811" transform="translate(128.15 347.38) rotate(-30) scale(1.0 1)">M-L PLA 3:3</text>
<text x="0" y="0" font-family="Liberation Serif" font-weight="bold" font-size="8.3" letter-spacing="0.819" transform="translate(168.72 337.65) rotate(-30) scale(1.0 1)">M-M 4:2</text>
<text x="0" y="0" font-family="Liberation Serif" font-weight="bold" font-size="8.3" letter-spacing="0.705" transform="translate(195.68 337.52) rotate(-30) scale(1.0 1)">M-M 3:3</text>
<text x="0" y="0" font-family="Liberation Sans" font-weight="bold" font-size="11.3" letter-spacing="1.200" transform="translate(331.67 200.58) rotate(0) scale(1.0 1)" stroke="#000" stroke-width="0.15">0</text>
<text x="0" y="0" font-family="Liberation Sans" font-weight="bold" font-size="11.3" letter-spacing="1.200" transform="translate(314.62 229.32) rotate(0) scale(1.0 1)" stroke="#000" stroke-width="0.15">-2.5</text>
<text x="0" y="0" font-family="Liberation Sans" font-weight="bold" font-size="11.3" letter-spacing="1.200" transform="translate(326.40 259.00) rotate(0) scale(1.0 1)" stroke="#000" stroke-width="0.15">-5</text>
<text x="0" y="0" font-family="Liberation Sans" font-weight="bold" font-size="11.3" letter-spacing="1.200" transform="translate(315.08 289.95) rotate(0) scale(1.0 1)" stroke="#000" stroke-width="0.15">-7.5</text>
<text x="0" y="0" font-family="Liberation Sans" font-weight="bold" font-size="11.3" letter-spacing="1.200" transform="translate(318.88 317.23) rotate(0) scale(1.0 1)" stroke="#000" stroke-width="0.15">-10</text>
<text x="0" y="0" font-family="Liberation Sans" font-weight="bold" font-size="11.3" letter-spacing="1.200" transform="translate(338.02 324.32) rotate(0) scale(1.0 1)" stroke="#000" stroke-width="0.15">0</text>
<text x="0" y="0" font-family="Liberation Sans" font-weight="bold" font-size="11.3" letter-spacing="1.200" transform="translate(379.20 324.32) rotate(0) scale(1.0 1)" stroke="#000" stroke-width="0.15">10</text>
<text x="0" y="0" font-family="Liberation Sans" font-weight="bold" font-size="11.3" letter-spacing="1.200" transform="translate(424.78 324.62) rotate(0) scale(1.0 1)" stroke="#000" stroke-width="0.15">20</text>
<text x="0" y="0" font-family="Liberation Sans" font-weight="bold" font-size="11.3" letter-spacing="1.200" transform="translate(470.65 324.62) rotate(0) scale(1.0 1)" stroke="#000" stroke-width="0.15">30</text>
<text x="0" y="0" font-family="Liberation Sans" font-weight="bold" font-size="11.3" letter-spacing="1.200" transform="translate(515.45 324.62) rotate(0) scale(1.0 1)" stroke="#000" stroke-width="0.15">40</text>
<text x="0" y="0" font-family="Liberation Sans" font-weight="bold" font-size="12.8" letter-spacing="1.374" transform="translate(409.05 337.10) rotate(0) scale(0.88 1)">T<tspan dx="2">ime (</tspan><tspan font-style="italic">min</tspan>)</text>
<text x="0" y="0" font-family="Liberation Sans" font-weight="bold" font-size="12.8" letter-spacing="1.719" transform="translate(306.00 273.30) rotate(-90) scale(0.85 1)">Force (N)</text>
<text x="0" y="0" font-family="Liberation Sans" font-weight="bold" font-size="12" letter-spacing="1.125" transform="translate(498.60 213.02) rotate(0) scale(1.0 1)" stroke="#000" stroke-width="0.15">(d)</text>
<text x="0" y="0" font-family="Liberation Sans" font-weight="bold" font-size="8.8" letter-spacing="0.000" transform="translate(392.92 207.90) rotate(0) scale(1.0 1)">R</text>
<text x="0" y="0" font-family="Liberation Sans" font-weight="bold" font-size="8.8" letter-spacing="0.000" transform="translate(399.67 245.45) rotate(0) scale(1.0 1)">R</text>
<text x="0" y="0" font-family="Liberation Sans" font-weight="bold" font-size="8.8" letter-spacing="0.000" transform="translate(423.22 271.65) rotate(0) scale(1.0 1)">R</text>
<rect x="459.6" y="280.6" width="55.5" height="26.7" fill="#fff" stroke="#888" stroke-width="0.8" rx="1"/>
<line x1="463.0" y1="286.9" x2="473.7" y2="286.9" stroke="#f7941d" stroke-width="2" />
<text x="475.0" y="289.4" font-size="7" text-anchor="start" font-weight="normal" font-family="Liberation Sans" fill="#1a1a1a">PLA</text>
<line x1="463.0" y1="295.8" x2="473.7" y2="295.8" stroke="#0d2d6b" stroke-width="2" />
<text x="475.0" y="298.3" font-size="7" text-anchor="start" font-weight="normal" font-family="Liberation Sans" fill="#1a1a1a">M-M 4:2</text>
<line x1="463.0" y1="303.4" x2="473.7" y2="303.4" stroke="#8fd07a" stroke-width="2" />
<text x="475.0" y="305.9" font-size="7" text-anchor="start" font-weight="normal" font-family="Liberation Sans" fill="#1a1a1a">M-M 3:3</text>
</svg>
</body></html>
